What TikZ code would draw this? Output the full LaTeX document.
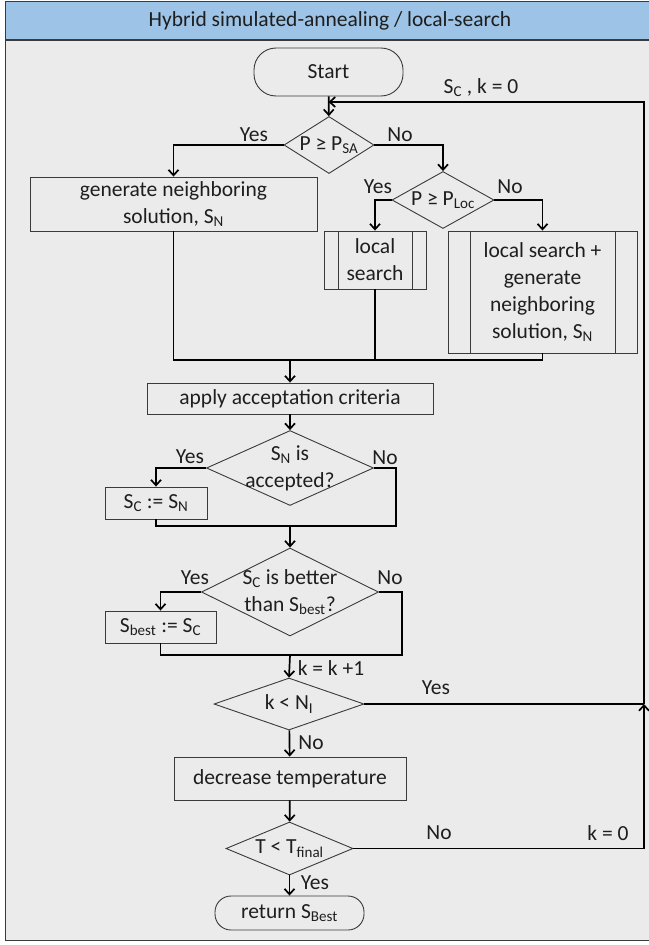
\documentclass[tikz,border=0pt]{standalone}
\usepackage{fontspec}
\setmainfont{Carlito}
\usetikzlibrary{shapes.geometric,arrows.meta}
\definecolor{headblue}{HTML}{9DC3E6}
\definecolor{panelgrey}{HTML}{EBEBEB}
\definecolor{edgegrey}{HTML}{3A3A3A}
\definecolor{inkgrey}{HTML}{1E1E1E}

\tikzset{
  box/.style={draw=edgegrey, line width=0.9pt, rectangle, inner sep=0pt, align=center},
  term/.style={box, rounded corners=#1},
  dia/.style={draw=edgegrey, line width=0.9pt, diamond, inner sep=0pt},
  subproc/.style={box, path picture={
      \draw[edgegrey, line width=0.9pt]
        ([xshift=#1]path picture bounding box.north west) -- ([xshift=#1]path picture bounding box.south west)
        ([xshift=-#1]path picture bounding box.north east) -- ([xshift=-#1]path picture bounding box.south east);}},
  flow/.style={line width=1.7pt, black},
  arr/.style={flow, -{Straight Barb[length=5.5pt,width=10pt]}},
  tag/.style={inner sep=0pt, text=inkgrey},
}

\begin{document}
\begin{tikzpicture}[x=1pt, y=-1pt, font=\fontsize{21.5}{27}\selectfont, text=inkgrey]
\useasboundingbox (0,0) rectangle (648,945);
% panel and title band
\draw[edgegrey, line width=1.5pt, fill=panelgrey] (5.5,1.5) rectangle (651,940.5);
\draw[edgegrey, line width=1.5pt, fill=headblue] (5.5,1.5) rectangle (651,40);
\node[tag] (title) at (330,21) {Hybrid simulated-annealing / local-search};

% nodes
\node[term=22pt, minimum width=149, minimum height=48] (start) at (328.5,72) {Start};
\node[dia, minimum width=90, minimum height=57, label={center:P ≥ P\textsubscript{SA}}] (dSA) at (329,145) {};
\node[box, minimum width=287, minimum height=54] (gen) at (173.5,204) {generate neighboring\\solution, S\textsubscript{N}};
\node[dia, minimum width=102, minimum height=57, label={center:P ≥ P\textsubscript{Loc}}] (dLoc) at (443,200) {};
\node[subproc=14pt, minimum width=102, minimum height=58] (ls) at (375,260) {local\\search};
\node[subproc=22pt, minimum width=189, minimum height=122] (lsgen) at (542.5,292) {local search +\\generate\\neighboring\\solution, S\textsubscript{N}};
\node[box, minimum width=286, minimum height=31] (apply) at (290,398.5) {apply acceptation criteria};
\node[dia, minimum width=167, minimum height=75, label={[align=center]center:S\textsubscript{N} is\\accepted?}] (dAcc) at (290,468) {};
\node[box, minimum width=102, minimum height=32] (sc) at (156,503) {S\textsubscript{C} := S\textsubscript{N}};
\node[dia, minimum width=177, minimum height=88, label={[align=center]center:S\textsubscript{C} is better\\than S\textsubscript{best}?}] (dBet) at (290,592) {};
\node[box, minimum width=111, minimum height=32] (sb) at (160.5,627) {S\textsubscript{best} := S\textsubscript{C}};
\node[dia, minimum width=150, minimum height=52, label={center:k < N\textsubscript{I}}] (dK) at (289,704) {};
\node[box, minimum width=232, minimum height=43] (dec) at (290,778.5) {decrease temperature};
\node[dia, minimum width=127, minimum height=53, label={center:T < T\textsubscript{final}}] (dT) at (289.5,848.5) {};
\node[term=16pt, minimum width=149, minimum height=34] (ret) at (289.5,913) {return S\textsubscript{Best}};

% junction points
\coordinate (m1) at (290,360);
\coordinate (m2) at (290,526);
\coordinate (n2) at (396,526);
\coordinate (m3) at (290,655);
\coordinate (n3) at (402,655);
\coordinate (jk) at (644,704);
\coordinate (jt) at (644,848.5);
\coordinate (top) at (644,102);
\coordinate (tin) at (start.south |- top);

% connectors
\draw[arr] (start) -- (dSA);
\draw[arr] (dSA.west) -| (gen.north);
\draw[arr] (dSA.east) -| (dLoc.north);
\draw[arr] (dLoc.west) -| (ls.north);
\draw[arr] (dLoc.east) -| (lsgen.north);
\draw[flow] (gen.south) |- (m1) -| (lsgen.south);
\draw[flow] (ls.south) -- (ls.south |- m1);
\draw[arr] (m1) -- (apply.north);
\draw[arr] (apply) -- (dAcc);
\draw[arr] (dAcc.west) -| (sc.north);
\draw[flow] (sc.south) |- (m2);
\draw[flow] (dAcc.east) -| (n2) -- (m2);
\draw[arr] (m2) -- (dBet.north);
\draw[arr] (dBet.west) -| (sb.north);
\draw[flow] (sb.south) |- (m3);
\draw[flow] (dBet.east) -| (n3) -- (m3);
\draw[arr] (m3) -- (dK.north);
\draw[flow] (dK.east) -- (jk);
\draw[arr] (jk) -- (top) -- (tin);
\draw[arr] (dK) -- (dec);
\draw[arr] (dec) -- (dT);
\draw[flow] (dT.east) -- (jt);
\draw[arr] (jt) -- (jk);
\draw[arr] (dT) -- (ret);

% branch labels
\node[tag] (lSAy) at (254,135) {Yes};
\node[tag] (lSAn) at (400,135) {No};
\node[tag] (lLoop) at (481,88) {S\textsubscript{C} , k = 0};
\node[tag] (lLocy) at (378,187) {Yes};
\node[tag] (lLocn) at (510,187) {No};
\node[tag] (lAccy) at (190,457) {Yes};
\node[tag] (lAccn) at (385,458) {No};
\node[tag] (lBety) at (195,578) {Yes};
\node[tag] (lBetn) at (390,578) {No};
\node[tag] (lInc) at (331,668) {k = k +1};
\node[tag] (lKy) at (436,688) {Yes};
\node[tag] (lKn) at (311,743) {No};
\node[tag] (lTn) at (439,833) {No};
\node[tag] (lTk) at (608,833) {k = 0};
\node[tag] (lTy) at (315,883) {Yes};
\end{tikzpicture}
\end{document}
